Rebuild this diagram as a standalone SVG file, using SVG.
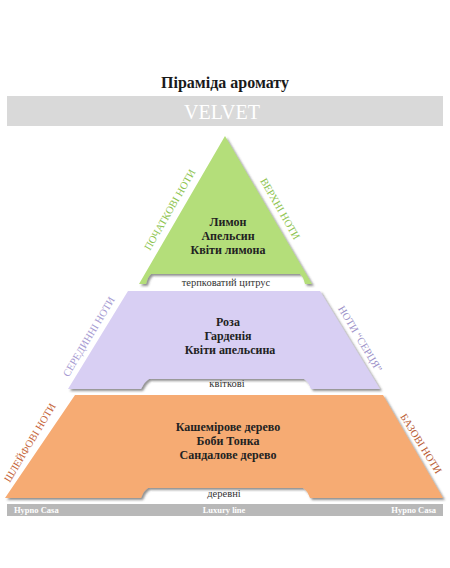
<svg xmlns="http://www.w3.org/2000/svg" width="450" height="568" viewBox="0 0 450 568">
<defs>
<filter id="sh" x="-5%" y="-5%" width="112%" height="115%">
<feGaussianBlur in="SourceAlpha" stdDeviation="0.8" result="b"/>
<feOffset dx="1.5" dy="2" result="o"/>
<feFlood flood-color="#3a3a3a" flood-opacity="0.55"/>
<feComposite in2="o" operator="in" result="s"/>
<feMerge><feMergeNode in="s"/><feMergeNode in="SourceGraphic"/></feMerge>
</filter>
<style>
.t{font-family:"Liberation Serif","Times New Roman",serif;}
.main{font-family:"Liberation Serif",serif;font-weight:bold;font-size:12px;fill:#222;text-anchor:middle;}
.sub{font-family:"Liberation Serif",serif;font-size:10.5px;fill:#333;text-anchor:middle;}
.side{font-family:"Liberation Serif",serif;font-size:10.5px;text-anchor:middle;}
.foot{font-family:"Liberation Serif",serif;font-size:8.5px;fill:#fff;font-weight:bold;}
</style>
</defs>
<rect width="450" height="568" fill="#fff"/>
<g id="title">
<text class="t" x="225" y="88" font-size="16" font-weight="bold" text-anchor="middle" fill="#1a1a1a">Піраміда аромату</text>
</g>
<g id="header">
<rect x="7" y="96" width="436" height="30" fill="#d9d9d9"/>
<text class="t" x="222" y="119" font-size="20" text-anchor="middle" fill="#fff">VELVET</text>
</g>
<g id="top">
<path d="M225,136 L312,284 L305,284 Q303,276 300,274 L151,274 Q148,276 146,284 L139,284 Z" fill="#b4de7a" filter="url(#sh)"/>
<text class="main" x="228" y="226">Лимон</text>
<text class="main" x="228" y="240">Апельсин</text>
<text class="main" x="228" y="254">Квіти лимона</text>
<text class="sub" x="226" y="286">терпковатий цитрус</text>
<text class="side" fill="#8cc34e" transform="translate(172,211) rotate(-60)" dy="1">ПОЧАТКОВІ НОТИ</text>
<text class="side" fill="#8cc34e" transform="translate(278,210) rotate(60)" dy="1">ВЕРХНІ НОТИ</text>
</g>
<g id="middle">
<path d="M128,291 L320,291 L380,389 L311,389 Q308,381 304,379 L149,379 Q145,381 141,389 L68,389 Z" fill="#d8cff3" filter="url(#sh)"/>
<text class="main" x="228" y="326">Роза</text>
<text class="main" x="228" y="340">Гарденія</text>
<text class="main" x="230" y="354">Квіти апельсина</text>
<text class="sub" x="227" y="387" font-size="9.5">квіткові</text>
<text class="side" fill="#a79bd2" transform="translate(91,338) rotate(-59)" dy="1">СЕРЕДИННІ НОТИ</text>
<text class="side" fill="#9c90c8" transform="translate(358,340) rotate(59)" dy="1">НОТИ “СЕРЦЯ”</text>
</g>
<g id="base">
<path d="M75,395 L383,395 L443,498 L310,498 Q307,490 303,488 L148,488 Q144,490 141,498 L5,498 Z" fill="#f6ab73" filter="url(#sh)"/>
<text class="main" x="228" y="431">Кашемірове дерево</text>
<text class="main" x="228" y="445">Боби Тонка</text>
<text class="main" x="228" y="459">Сандалове дерево</text>
<text class="sub" x="224" y="497">деревні</text>
<text class="side" fill="#c6653a" transform="translate(32,444) rotate(-59)" dy="1">ШЛЕЙФОВІ НОТИ</text>
<text class="side" fill="#b95c34" transform="translate(419,445) rotate(58)" dy="1">БАЗОВІ НОТИ</text>
</g>
<g id="footer">
<rect x="7" y="504" width="436" height="12" fill="#b8b8b8"/>
<text class="foot" x="14" y="513">Hypno Casa</text>
<text class="foot" x="224" y="513" text-anchor="middle">Luxury line</text>
<text class="foot" x="436" y="513" text-anchor="end">Hypno Casa</text>
</g>
</svg>
